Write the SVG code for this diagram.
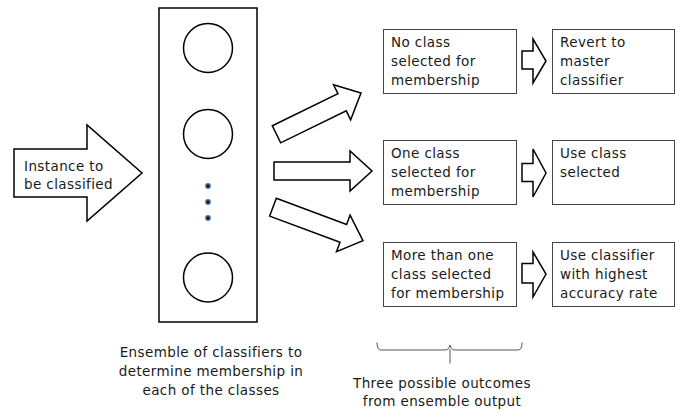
<svg xmlns="http://www.w3.org/2000/svg" width="675" height="412" viewBox="0 0 675 412">
<style>
.big{fill:#fff;stroke:#000;stroke-width:1.5;stroke-linejoin:miter}
.box{fill:#fff;stroke:#444;stroke-width:1}
.t{font-family:"DejaVu Sans","Open Sans",sans-serif;font-size:13.5px;letter-spacing:0.4px;fill:#1a1a1a}
.c{text-anchor:middle}
.dot{fill:#0d1a33;stroke:#4f77b0;stroke-width:1.2}
</style>
<rect width="675" height="412" fill="#fff"/>
<g id="input">
<polygon class="big" points="14,149 87,149 87,125 142,173 87,221 87,197 14,197"/>
<text class="t" x="24" y="171">Instance to</text>
<text class="t" x="24" y="189">be classified</text>
</g>
<g id="ensemble">
<rect class="big" x="159" y="8" width="98" height="314"/>
<circle class="big" cx="208" cy="48" r="24.5"/>
<circle class="big" cx="208" cy="134" r="24.5"/>
<circle class="big" cx="208" cy="277.5" r="24.5"/>
<circle class="dot" cx="208" cy="186" r="2.3"/>
<circle class="dot" cx="208" cy="202" r="2.3"/>
<circle class="dot" cx="208" cy="218" r="2.3"/>
<text class="t c" x="211" y="357">Ensemble of classifiers to</text>
<text class="t c" x="211" y="376">determine membership in</text>
<text class="t c" x="211" y="395">each of the classes</text>
</g>
<g id="connectors">
<polygon class="big" transform="translate(276.5,134.3) rotate(-26)" points="0,-9.5 73,-9.5 73,-19.5 94,0 73,19.5 73,9.5 0,9.5"/>
<polygon class="big" points="274,162 350,162 350,151 372,171 350,191 350,180 274,180"/>
<polygon class="big" transform="translate(273,207.2) rotate(20.4)" points="0,-9.5 75,-9.5 75,-19.5 96,0 75,19.5 75,9.5 0,9.5"/>
<polygon class="big" points="522,51 533,51 533,39 546,61 533,83 533,69 522,69"/>
<polygon class="big" points="522,163.5 533,163.5 533,149 546,173 533,197 533,181.5 522,181.5"/>
<polygon class="big" points="522,263.5 533,263.5 533,252 546,274 533,297 533,283 522,283"/>
</g>
<g id="box-none">
<rect class="box" x="383.5" y="29.5" width="133" height="64"/>
<text class="t" x="391" y="47">No class</text>
<text class="t" x="391" y="66">selected for</text>
<text class="t" x="391" y="85">membership</text>
</g>
<g id="box-one">
<rect class="box" x="383.5" y="140.5" width="133" height="64"/>
<text class="t" x="391" y="158">One class</text>
<text class="t" x="391" y="177">selected for</text>
<text class="t" x="391" y="196">membership</text>
</g>
<g id="box-many">
<rect class="box" x="383.5" y="242.5" width="133" height="64"/>
<text class="t" x="391" y="260">More than one</text>
<text class="t" x="391" y="279">class selected</text>
<text class="t" x="391" y="298">for membership</text>
</g>
<g id="box-revert">
<rect class="box" x="552.5" y="29.5" width="122" height="64"/>
<text class="t" x="560" y="47">Revert to</text>
<text class="t" x="560" y="66">master</text>
<text class="t" x="560" y="85">classifier</text>
</g>
<g id="box-use">
<rect class="box" x="552.5" y="140.5" width="122" height="64"/>
<text class="t" x="560" y="158">Use class</text>
<text class="t" x="560" y="177">selected</text>
</g>
<g id="box-highest">
<rect class="box" x="552.5" y="242.5" width="122" height="64"/>
<text class="t" x="560" y="260">Use classifier</text>
<text class="t" x="560" y="279">with highest</text>
<text class="t" x="560" y="298">accuracy rate</text>
</g>
<g id="brace">
<path d="M377,342.5 Q377,350 381,350 L445,350 Q449,350 450,345 Q451,350 455,350 L518,350 Q522,350 522,342.5 M450,349 L450,363.5" fill="none" stroke="#555" stroke-width="1"/>
<text class="t c" x="442" y="388">Three possible outcomes</text>
<text class="t c" x="442" y="406">from ensemble output</text>
</g>
</svg>
